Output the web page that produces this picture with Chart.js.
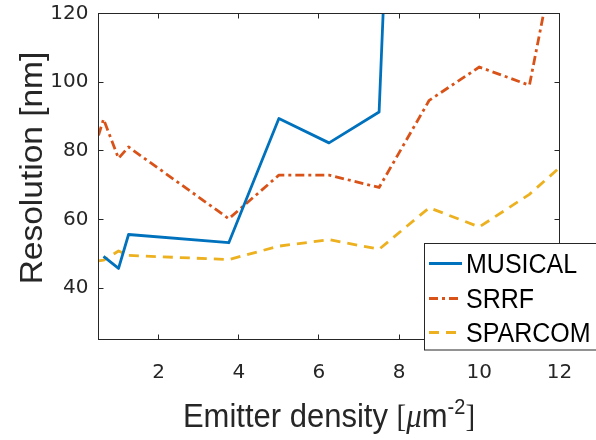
<!DOCTYPE html>
<html><head><meta charset="utf-8">
<script src="https://cdn.jsdelivr.net/npm/chart.js@4/dist/chart.umd.min.js"></script>
<style>html,body{margin:0;padding:0;background:#fff}#wrap{width:596px;height:440px}</style>
</head><body><div id="wrap"><canvas id="c" width="596" height="440"></canvas></div>
<script>
// ---- data ----
const densities = [0.5, 0.625, 1.0, 1.25, 3.75, 5.0, 6.25, 7.5, 8.75, 10.0, 11.25, 12.5];
const musical   = [null, 49.2, 45.7, 55.6, 53.2, 89.4, 82.3, 91.3, 450, null, null, null];
const srrf      = [84.5, 89.2, 77.8, 81.1, 60.2, 72.9, 72.9, 69.3, 94.7, 104.4, 99.1, 173];
const sparcom   = [47.9, 48.1, 50.8, 49.5, 48.3, 52.2, 54.1, 51.3, 63.4, 57.8, 67.3, 80.3];
const seriesNames = ['MUSICAL', 'SRRF', 'SPARCOM'];
const xTicks = [2, 4, 6, 8, 10, 12];
const yTicks = [40, 60, 80, 100, 120];
const xTitleText = 'Emitter density ';
const yTitleText = 'Resolution [nm]';

const colors = ['#0072BD', '#D95319', '#EDB120'];
const dashes = [[], [9, 4, 3, 4], [10, 7]];
const seriesValues = [musical, srrf, sparcom];
const AX = '#262626';

function pts(vals) { return densities.map((x, i) => ({ x: x, y: vals[i] })); }

const datasets = seriesNames.map((name, i) => ({
  label: name,
  data: pts(seriesValues[i]),
  borderColor: colors[i],
  backgroundColor: colors[i],
  borderWidth: 2.8,
  borderDash: dashes[i],
  borderCapStyle: 'butt',
  borderJoinStyle: 'round',
  pointRadius: 0,
  tension: 0,
  fill: false,
  spanGaps: false,
  clip: 0
}));

function drawText(ctx, txt, x, y, font, align, sy) {
  ctx.save();
  ctx.translate(x, y);
  ctx.scale(1, sy || 1);
  ctx.font = font;
  ctx.textAlign = align || 'left';
  ctx.textBaseline = 'alphabetic';
  ctx.fillText(txt, 0, 0);
  ctx.restore();
}

const decor = {
  id: 'decor',
  afterDraw(chart) {
    const ctx = chart.ctx, ca = chart.chartArea;
    const xs = chart.scales.x, ys = chart.scales.y;
    ctx.save();
    // box
    ctx.strokeStyle = AX; ctx.lineWidth = 1;
    ctx.strokeRect(ca.left, ca.top, ca.right - ca.left, ca.bottom - ca.top);
    // inward ticks
    const tl = 5;
    ctx.beginPath();
    xTicks.forEach(v => {
      const p = Math.floor(xs.getPixelForValue(v)) + 0.5;
      ctx.moveTo(p, ca.bottom); ctx.lineTo(p, ca.bottom - tl);
      ctx.moveTo(p, ca.top); ctx.lineTo(p, ca.top + tl);
    });
    yTicks.forEach(v => {
      const p = Math.floor(ys.getPixelForValue(v)) + 0.5;
      ctx.moveTo(ca.left, p); ctx.lineTo(ca.left + tl, p);
      ctx.moveTo(ca.right, p); ctx.lineTo(ca.right - tl, p);
    });
    ctx.stroke();

    // y title (rotated)
    ctx.fillStyle = AX;
    ctx.save();
    ctx.translate(41.5, 168);
    ctx.rotate(-Math.PI / 2);
    ctx.scale(1.08, 1);
    ctx.font = '31px "Liberation Sans"';
    ctx.textAlign = 'center'; ctx.textBaseline = 'alphabetic';
    ctx.fillText(yTitleText, 0, 0);
    ctx.restore();

    // x title with TeX-like unit
    const sy = 1.06, base = 426.7;
    const parts = [
      { t: xTitleText, f: '31px "Liberation Sans"', dy: 0 },
      { t: '[', f: '29px "Liberation Serif"', dy: 0 },
      { t: '\u03BC', f: 'italic 31px "Liberation Serif"', dy: 0 },
      { t: 'm', f: '31px "Liberation Sans"', dy: 0 },
      { t: '-2', f: '20px "Liberation Sans"', dy: -13 },
      { t: ']', f: '29px "Liberation Serif"', dy: 0 }
    ];
    let total = 0;
    parts.forEach(p => { ctx.font = p.f; p.w = ctx.measureText(p.t).width; total += p.w; });
    let x0 = (ca.left + ca.right) / 2 - total / 2;
    parts.forEach(p => { drawText(ctx, p.t, x0, base + p.dy, p.f, 'left', sy); x0 += p.w; });

    // legend
    const lx = 424.5, ly = 243.5, lw = 200, lh = 106.5;
    ctx.fillStyle = '#fff';
    ctx.fillRect(lx, ly, lw, lh);
    ctx.strokeStyle = AX; ctx.lineWidth = 1;
    ctx.strokeRect(lx, ly, lw, lh);
    const rows = [263.5, 298.5, 332.5];
    seriesNames.forEach((name, i) => {
      ctx.save();
      ctx.strokeStyle = colors[i];
      ctx.lineWidth = 2.8;
      ctx.setLineDash(dashes[i]);
      ctx.beginPath();
      ctx.moveTo(429, rows[i]); ctx.lineTo(462, rows[i]);
      ctx.stroke();
      ctx.restore();
      ctx.fillStyle = '#000';
      drawText(ctx, name, 466, rows[i] + 9.5, '25px "Liberation Sans"', 'left', 1.08);
    });
    ctx.restore();
  }
};

new Chart(document.getElementById('c'), {
  type: 'line',
  data: { datasets: datasets },
  plugins: [decor],
  options: {
    responsive: false,
    animation: false,
    devicePixelRatio: 1,
    layout: { padding: { top: 13.5, right: 36.5, left: 0, bottom: 0 } },
    plugins: { legend: { display: false }, tooltip: { enabled: false } },
    scales: {
      x: {
        type: 'linear', min: 0.5, max: 12,
        afterBuildTicks: s => { s.ticks = xTicks.map(v => ({ value: v })); },
        afterFit: s => { s.height = 100.5; s.paddingLeft = 0; s.paddingRight = 0; },
        grid: { display: false, drawTicks: false },
        border: { display: false },
        ticks: { font: { family: 'DejaVu Sans', size: 20 }, color: AX, padding: 21, maxRotation: 0, autoSkip: false }
      },
      y: {
        type: 'linear', min: 25, max: 120,
        afterBuildTicks: s => { s.ticks = yTicks.map(v => ({ value: v })); },
        afterFit: s => { s.width = 98.5; s.paddingTop = 0; s.paddingBottom = 0; },
        grid: { display: false, drawTicks: false },
        border: { display: false },
        ticks: { font: { family: 'DejaVu Sans', size: 20 }, color: AX, padding: 10, autoSkip: false }
      }
    }
  }
});
</script>
</body></html>
